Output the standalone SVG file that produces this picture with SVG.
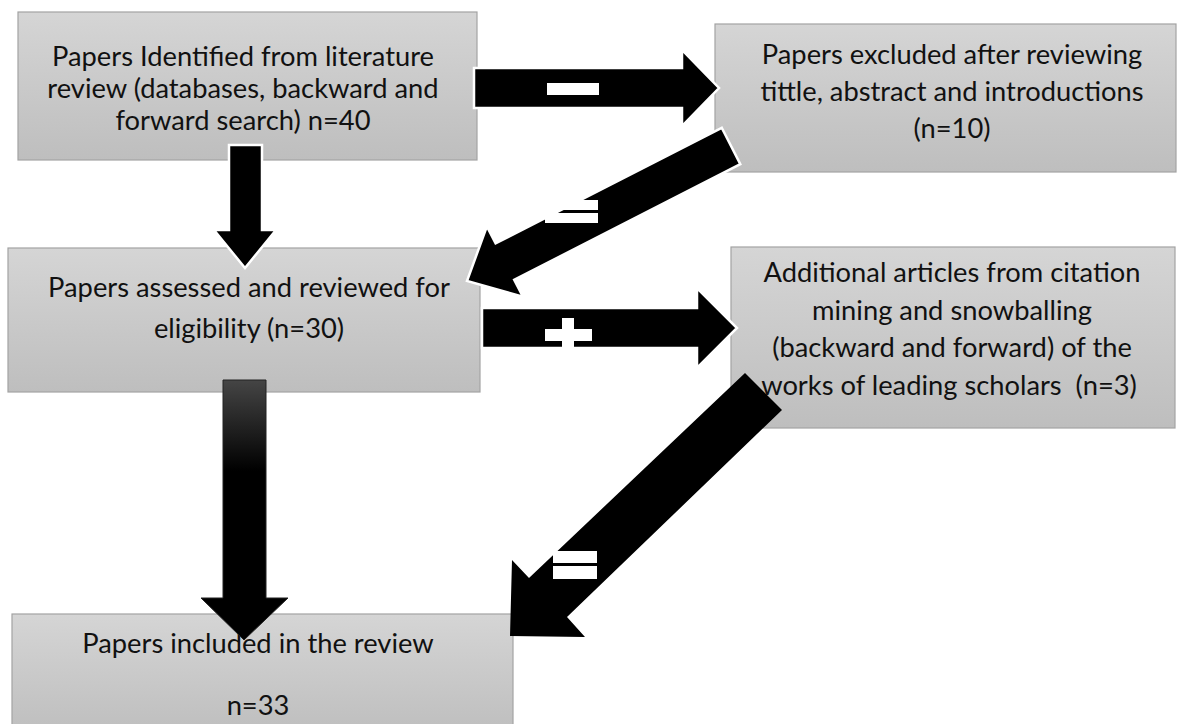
<svg xmlns="http://www.w3.org/2000/svg" width="1177" height="724" viewBox="0 0 1177 724">
<defs>
<linearGradient id="boxg" x1="0" y1="0" x2="0" y2="1">
<stop offset="0" stop-color="#d5d5d5"/>
<stop offset="1" stop-color="#bebebe"/>
</linearGradient>
<linearGradient id="arrg" gradientUnits="userSpaceOnUse" x1="0" y1="380" x2="0" y2="640">
<stop offset="0" stop-color="#454545"/>
<stop offset="0.35" stop-color="#000"/>
<stop offset="1" stop-color="#000"/>
</linearGradient>
<style>
.box{fill:url(#boxg);stroke:#a3a3a3;stroke-width:1.2}
.t{font-family:Lato,"Liberation Sans",sans-serif;font-size:27.3px;fill:#111;text-anchor:middle}
.arr{fill:#000;stroke:#fff;stroke-width:2.5;stroke-linejoin:miter}
.sign{fill:#fff}
</style>
</defs>
<rect width="1177" height="724" fill="#fff"/>
<g id="node1">
<rect class="box" x="18" y="12" width="459" height="148"/>
<text class="t" x="243" y="66">Papers Identified from literature</text>
<text class="t" x="243" y="98">review (databases, backward and</text>
<text class="t" x="243" y="130">forward search) n=40</text>
</g>
<g id="node2">
<rect class="box" x="715" y="24" width="461" height="148"/>
<text class="t" x="952" y="64">Papers excluded after reviewing</text>
<text class="t" x="952" y="101">tittle, abstract and introductions</text>
<text class="t" x="952" y="138">(n=10)</text>
</g>
<g id="node3">
<rect class="box" x="8" y="248" width="472" height="144"/>
<text class="t" x="249" y="297">Papers assessed and reviewed for</text>
<text class="t" x="249" y="338">eligibility (n=30)</text>
</g>
<g id="node4">
<rect class="box" x="731" y="247" width="444" height="181"/>
<text class="t" x="952" y="282">Additional articles from citation</text>
<text class="t" x="952" y="320">mining and snowballing</text>
<text class="t" x="952" y="357">(backward and forward) of the</text>
<text class="t" x="949" y="395" style="white-space:pre">works of leading scholars  (n=3)</text>
</g>
<g id="node5">
<rect class="box" x="12" y="614" width="501" height="120"/>
<text class="t" x="258" y="653">Papers included in the review</text>
<text class="t" x="258" y="715">n=33</text>
</g>
<g id="connectors">
<polygon class="arr" points="474,68 682,68 682,50 719,88 682,126 682,108 474,108"/>
<rect class="sign" x="547" y="83" width="52" height="12"/>
<polygon class="arr" points="229,145 262,145 262,230 276,230 245,268 214,230 229,230"/>
<polygon class="arr" points="721.7,127.8 495.6,243.4 486.9,226.4 467,281 522.9,296.8 514.2,279.8 740.3,164.2"/>
<rect class="sign" x="545" y="200" width="53" height="10"/>
<rect class="sign" x="545" y="213" width="53" height="10"/>
<polygon class="arr" points="482,308 697,308 697,288 737,328 697,368 697,348 482,348"/>
<rect class="sign" x="545" y="329" width="47" height="12"/>
<rect class="sign" x="562" y="318" width="12" height="30"/>
<polygon points="223,380 266,380 266,598 288,598 244,640 201,598 223,598" fill="url(#arrg)" stroke="#222" stroke-width="1"/>
<polygon points="745,373 529,578 512,560 510,636 585,637 567,617 782,410" fill="#000"/>
<rect class="sign" x="553" y="551" width="44" height="12"/>
<rect class="sign" x="553" y="566" width="44" height="13"/>
</g>
</svg>
